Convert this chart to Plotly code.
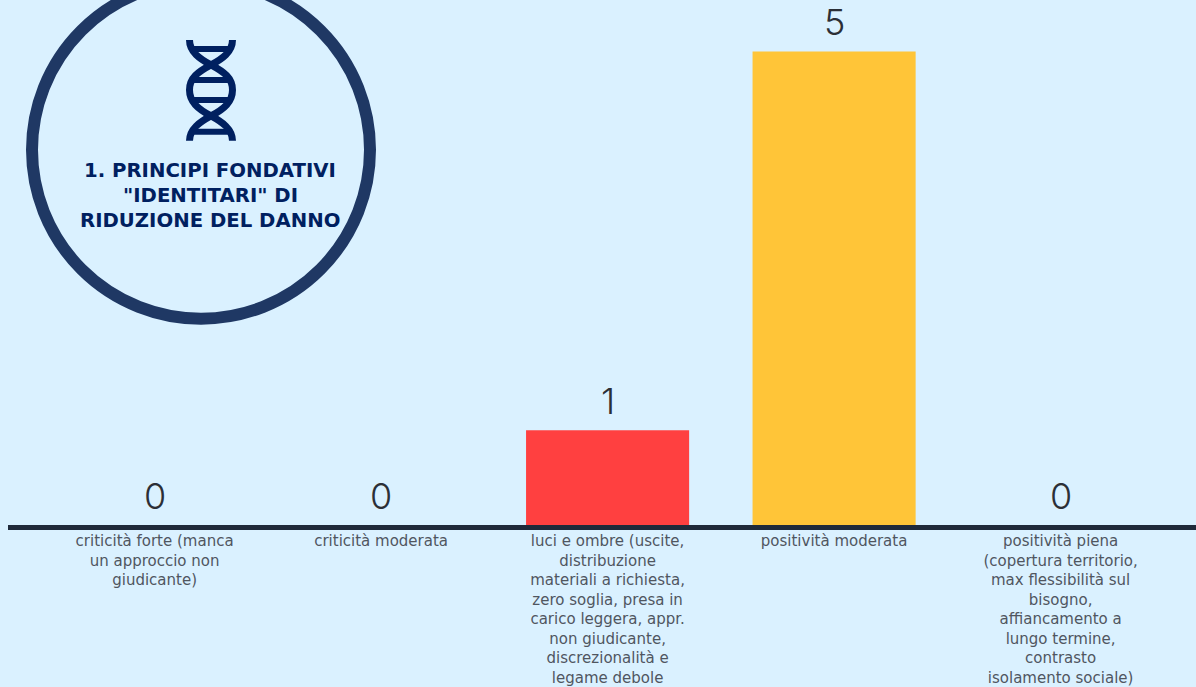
import plotly.graph_objects as go

categories = [
    "criticità forte (manca<br>un approccio non<br>giudicante)",
    "criticità moderata",
    "luci e ombre (uscite,<br>distribuzione<br>materiali a richiesta,<br>zero soglia, presa in<br>carico leggera, appr.<br>non giudicante,<br>discrezionalità e<br>legame debole",
    "positività moderata",
    "positività piena<br>(copertura territorio,<br>max flessibilità sul<br>bisogno,<br>affiancamento a<br>lungo termine,<br>contrasto<br>isolamento sociale)",
]
values = [0, 0, 1, 5, 0]
bar_colors = ["#FF4040", "#FF4040", "#FF4040", "#FFC538", "#FF4040"]
title_lines = ["1. PRINCIPI FONDATIVI", '"IDENTITARI" DI', "RIDUZIONE DEL DANNO"]

W, H = 1196, 687
LEFT, BASE = 8, 525.5
NAVY = "#002060"
RING = "#1F3864"


def px(x):
    return (x - LEFT) / (W - LEFT)


def py(y):
    return (BASE - y) / BASE


def helix(points):
    """Turn (x, y) control points into a cubic SVG path in paper space."""
    start, *rest = points
    d = f"M {px(start[0]):.5f},{py(start[1]):.5f}"
    for i in range(0, len(rest), 3):
        a, b, c = rest[i:i + 3]
        d += f" C {px(a[0]):.5f},{py(a[1]):.5f} {px(b[0]):.5f},{py(b[1]):.5f} {px(c[0]):.5f},{py(c[1]):.5f}"
    return d


strand = [(189.5, 40), (189.5, 52), (200, 59), (211, 65), (224, 72), (232.5, 78), (232.5, 90),
          (232.5, 102), (224, 109), (211, 116), (200, 122), (189.5, 129), (189.5, 141)]
mirror = [(422 - x, y) for x, y in strand]

shapes = [
    dict(type="circle", xref="paper", yref="paper", x0=px(32), x1=px(370), y0=py(319), y1=py(-19),
         line=dict(color=RING, width=12), fillcolor="rgba(0,0,0,0)", layer="above"),
]
for s in (strand, mirror):
    shapes.append(dict(type="path", xref="paper", yref="paper", path=helix(s),
                       line=dict(color=NAVY, width=7), layer="above"))
for y, half in ((49, 17), (80, 20), (100, 20), (132, 17)):
    shapes.append(dict(type="line", xref="paper", yref="paper", x0=px(211 - half), x1=px(211 + half),
                       y0=py(y), y1=py(y), line=dict(color=NAVY, width=6), layer="above"))

annotations = [
    dict(text=line, xref="paper", yref="paper", x=px(210.5), y=py(yc), showarrow=False,
         xanchor="center", yanchor="middle",
         font=dict(family="DejaVu Sans", size=19.7, color=NAVY, weight="bold"))
    for line, yc in zip(title_lines, (171, 196, 221))
]
# Value labels sit a fixed distance above each bar top
annotations += [
    dict(text=str(v), x=i, y=v, xref="x", yref="y", showarrow=False, yanchor="middle", yshift=29,
         font=dict(family="Inter", size=36, color="#2B2F36", weight=300))
    for i, v in enumerate(values)
]

fig = go.Figure(go.Bar(
    x=list(range(5)),
    y=values,
    width=0.72,
    marker=dict(color=bar_colors, line=dict(width=0)),
    cliponaxis=False,
))

fig.update_layout(
    width=W, height=H,
    margin=dict(l=LEFT, r=0, t=0, b=H - BASE, autoexpand=False),
    paper_bgcolor="#DAF1FF",
    plot_bgcolor="#DAF1FF",
    showlegend=False,
    shapes=shapes,
    annotations=annotations,
    xaxis=dict(
        range=[-0.6472, 4.5978],
        tickmode="array",
        tickvals=list(range(5)),
        ticktext=categories,
        tickangle=0,
        tickfont=dict(family="DejaVu Sans", size=15, color="#50565F"),
        ticklabelstandoff=-2,
        showgrid=False,
        zeroline=False,
        showline=True,
        linecolor="#1F2A3A",
        linewidth=5,
        ticks="",
    ),
    yaxis=dict(range=[0, BASE / 94.8], visible=False),
)

fig.write_html("out.html")
